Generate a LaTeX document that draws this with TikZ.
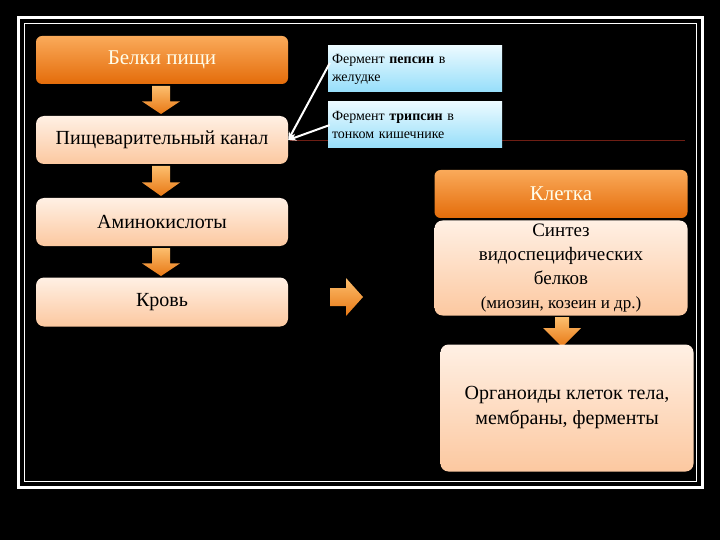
\documentclass[tikz,border=0pt]{standalone}
\usepackage{fontspec}
\setmainfont{Liberation Serif}
\usetikzlibrary{arrows.meta}
\definecolor{otop}{RGB}{250,170,90}
\definecolor{obot}{RGB}{228,108,10}
\definecolor{ptop}{RGB}{255,240,228}
\definecolor{pbot}{RGB}{252,200,160}
\definecolor{btop}{RGB}{235,250,255}
\definecolor{bbot}{RGB}{150,222,250}
\definecolor{atop}{RGB}{252,190,110}
\definecolor{abot}{RGB}{232,120,20}
\definecolor{redline}{RGB}{110,30,20}
\begin{document}
\begin{tikzpicture}[x=1pt,y=-1pt,
  orangebox/.style={rounded corners=6pt,top color=otop,bottom color=obot,text=white!92!yellow,font=\fontsize{21}{25}\selectfont,align=center,inner sep=0pt},
  peachbox/.style={rounded corners=8pt,top color=ptop,bottom color=pbot,text=black,align=center,inner sep=0pt},
  bluebox/.style={top color=btop,bottom color=bbot,text=black,align=left,font=\fontsize{14}{18}\selectfont,inner sep=0pt},
  blockarrow/.style={top color=atop,bottom color=abot,draw=none},
  pointer/.style={draw=white,line width=2pt,-{Stealth[length=8pt,width=7pt]}}]
\fill[black] (0,0) rectangle (720,540);
\useasboundingbox (0,0) rectangle (720,540);
\draw[white,line width=3pt] (18,18) rectangle (702,487);
\draw[white,line width=1pt] (24,24) rectangle (696,481);
\draw[redline,line width=0.8pt] (290,140) -- (685,140);
% left column
\node[orangebox,minimum width=252pt,minimum height=48pt] (belki) at (162,60) {Белки пищи};
\node[peachbox,minimum width=252pt,minimum height=48pt,font=\fontsize{20}{24}\selectfont] (kanal) at (162,140) {Пищеварительный канал};
\node[peachbox,minimum width=252pt,minimum height=48pt,font=\fontsize{20}{24}\selectfont] (amino) at (162,222) {Аминокислоты};
\node[peachbox,minimum width=252pt,minimum height=49pt,font=\fontsize{20}{24}\selectfont] (krov) at (162,302) {Кровь};
% down arrows
\foreach \t/\b in {86/114,166/196,248/276}{
  \shade[blockarrow] (152,\t) -- (170,\t) -- (170,\t+0.55*\b-0.55*\t) -- (180,\t+0.55*\b-0.55*\t) -- (161,\b) -- (142,\t+0.55*\b-0.55*\t) -- (152,\t+0.55*\b-0.55*\t) -- cycle;}
% blue boxes
\node[bluebox,minimum width=174pt,minimum height=46pt,text width=166pt] (pepsin) at (415,69) {Фермент \textbf{пепсин} в\\желудке};
\node[bluebox,minimum width=174pt,minimum height=46pt,text width=166pt] (tripsin) at (415,125) {Фермент \textbf{трипсин} в\\тонком кишечнике};
\draw[pointer] (pepsin.west) ++(2,-6) -- (kanal.east);
\draw[pointer] (tripsin.west) ++(2,0) -- (kanal.east);
% right arrow
\shade[blockarrow] (330,288) -- (346,288) -- (346,278) -- (363,297) -- (346,316) -- (346,306) -- (330,306) -- cycle;
% right column
\node[orangebox,minimum width=253pt,minimum height=48pt] (kletka) at (561,194) {Клетка};
\node[peachbox,minimum width=253pt,minimum height=95pt,font=\fontsize{19}{24}\selectfont] (sintez) at (561,268) {Синтез\\видоспецифических\\белков\\{\fontsize{17}{20}\selectfont(миозин, козеин и др.)}};
\shade[blockarrow] (555,317) -- (569,317) -- (569,328) -- (581,328) -- (562,347) -- (543,328) -- (555,328) -- cycle;
\node[peachbox,minimum width=253pt,minimum height=127pt,font=\fontsize{20}{25}\selectfont] (organ) at (567,408) {Органоиды клеток тела,\\мембраны, ферменты};
\end{tikzpicture}
\end{document}
